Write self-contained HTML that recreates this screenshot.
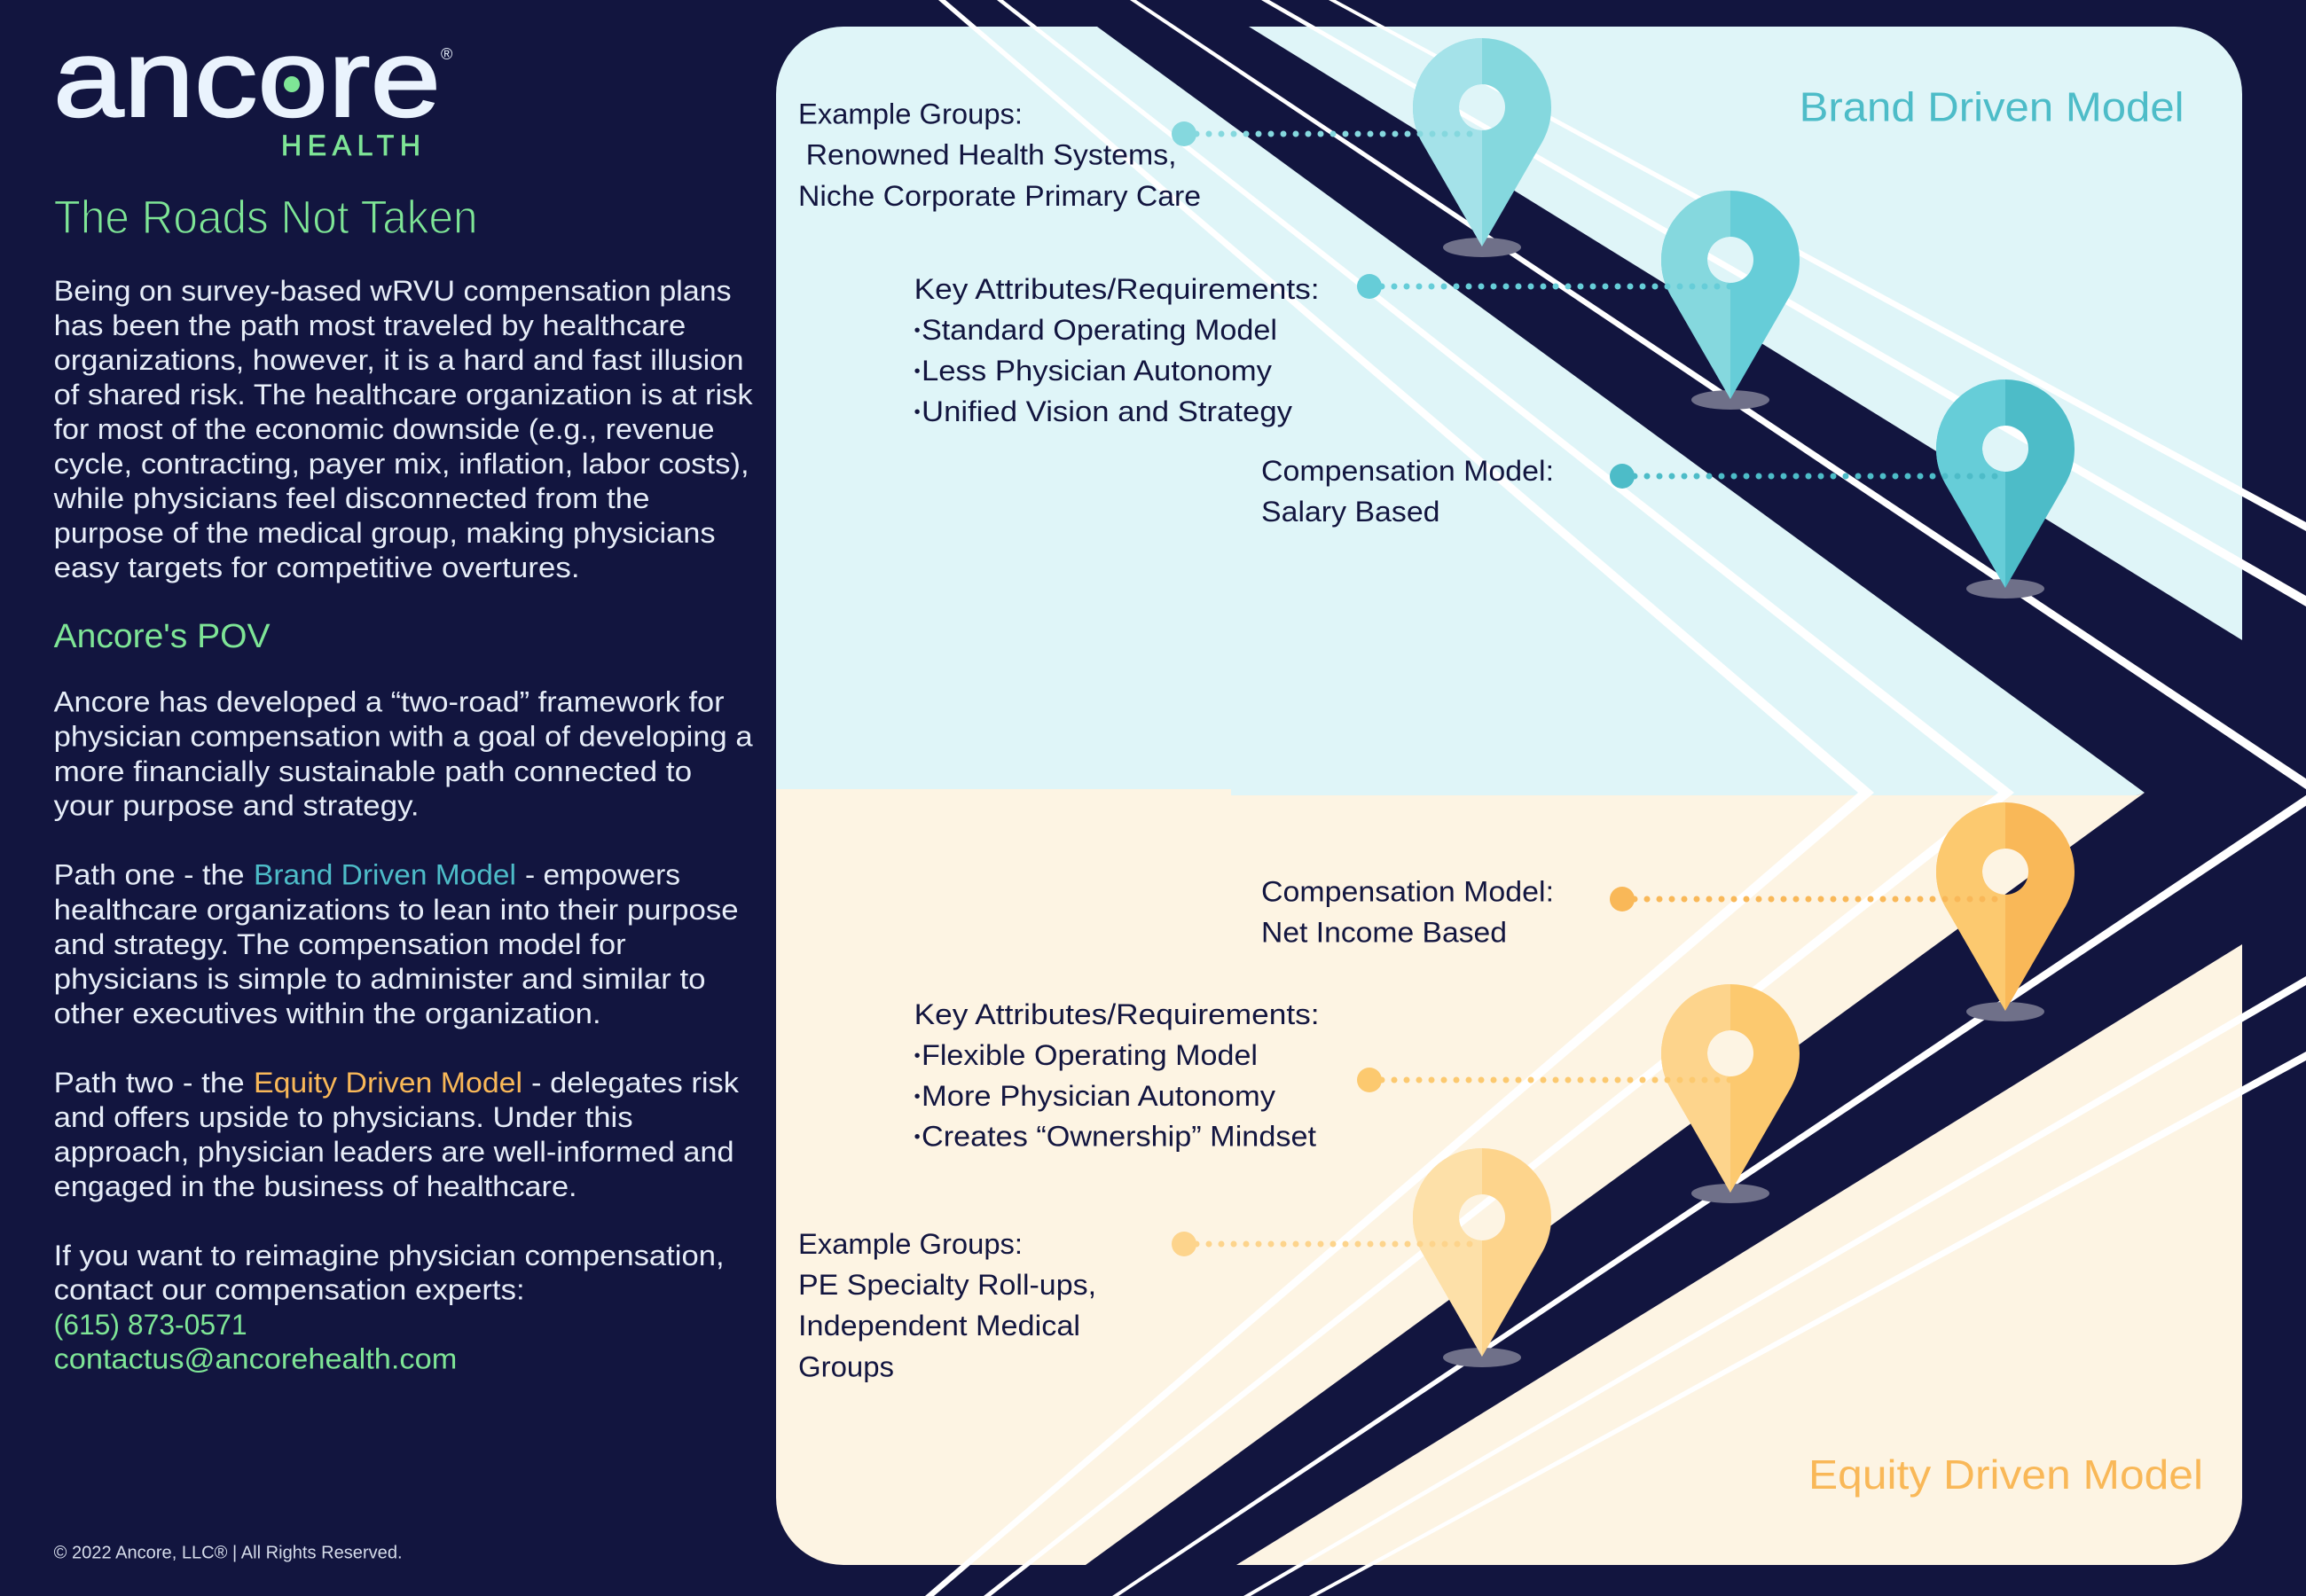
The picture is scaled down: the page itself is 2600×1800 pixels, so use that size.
<!DOCTYPE html>
<html><head><meta charset="utf-8"><title>Ancore Health - The Roads Not Taken</title>
<style>
html,body{margin:0;padding:0;background:#12153f;width:2600px;height:1800px;overflow:hidden}
svg{display:block}
text{font-family:"Liberation Sans",sans-serif;white-space:pre}
.b{font-size:32px;fill:#e6edf8}
.d{font-size:32px;fill:#12153f}
.g{fill:#7ee596}
.s{font-size:20px}
</style></head><body>
<svg xmlns="http://www.w3.org/2000/svg" width="2600" height="1800" viewBox="0 0 2600 1800">
<defs>
<path id="pin" fill-rule="evenodd" d="M0,0 L-68,-118 C-75,-131 -78,-143 -78,-157 A78,78 0 0 1 78,-157 C78,-143 75,-131 68,-118 Z M26,-157 A26,26 0 1 0 -26,-157 A26,26 0 1 0 26,-157 Z"/>
<clipPath id="lh"><rect x="-90" y="-250" width="90" height="260"/></clipPath>
</defs>
<rect width="2600" height="1800" fill="#12153f"/>
<!-- panels -->
<path fill="#dff5f8" d="M875,106 A76,76 0 0 1 951,30 L1237,30 L2418,894 L2409,897 L875,897 Z"/>
<path fill="#dff5f8" d="M1408,30 L2452,30 A76,76 0 0 1 2528,106 L2528,722 Z"/>
<path fill="#fdf4e3" d="M875,890 L1388,890 L1388,897 L2409,897 L2418,894 L1224,1765 L951,1765 A76,76 0 0 1 875,1689 Z"/>
<path fill="#fdf4e3" d="M1394,1765 L2528,1065 L2528,1689 A76,76 0 0 1 2452,1765 Z"/>
<!-- tapered roads -->
<g fill="#fff">
<polygon points="1058,0 1066,0 2113,894 1053,1800 1043,1800 2095,894"/>
<polygon points="1124,0 1131,0 2271,894 1117,1800 1109,1800 2253,894"/>
<polygon points="1274,0 1281,0 2623,893.5 1261,1800 1254,1800 2605,893.5"/>
<polygon points="1422,0 1431,0 2600,672 2600,684"/>
<polygon points="1498,0 1506,0 2600,589 2600,599"/>
<polygon points="1402,1800 1410,1800 2600,1111 2600,1101"/>
<polygon points="1476,1800 1484,1800 2600,1196 2600,1186"/>
</g>
<!-- pins -->
<g fill="#6f7089">
<ellipse cx="1671" cy="279" rx="44" ry="11"/><ellipse cx="1951" cy="451" rx="44" ry="11"/><ellipse cx="2261" cy="664" rx="44" ry="11"/>
<ellipse cx="2261" cy="1141" rx="44" ry="11"/><ellipse cx="1951" cy="1346" rx="44" ry="11"/><ellipse cx="1671" cy="1531" rx="44" ry="11"/>
</g>
<g transform="translate(1671,278)"><use href="#pin" fill="#85d8de"/><use href="#pin" fill="#a4e2e9" clip-path="url(#lh)"/></g>
<g transform="translate(1951,450)"><use href="#pin" fill="#66cdd8"/><use href="#pin" fill="#85d8de" clip-path="url(#lh)"/></g>
<g transform="translate(2261,663)"><use href="#pin" fill="#4dbcc8"/><use href="#pin" fill="#66cdd8" clip-path="url(#lh)"/></g>
<g transform="translate(2261,1140)"><use href="#pin" fill="#f9b858"/><use href="#pin" fill="#fcc96f" clip-path="url(#lh)"/></g>
<g transform="translate(1951,1345)"><use href="#pin" fill="#fcc96f"/><use href="#pin" fill="#fdd48c" clip-path="url(#lh)"/></g>
<g transform="translate(1671,1530)"><use href="#pin" fill="#fdd48c"/><use href="#pin" fill="#fde0a8" clip-path="url(#lh)"/></g>
<!-- connectors -->
<g fill="none" stroke-width="7" stroke-linecap="round" stroke-dasharray="0 14">
<line x1="1335" y1="151" x2="1671" y2="151" stroke="#85d8de"/>
<line x1="1544" y1="323" x2="1951" y2="323" stroke="#66cdd8"/>
<line x1="1829" y1="537" x2="2261" y2="537" stroke="#4dbcc8"/>
<line x1="1829" y1="1014" x2="2261" y2="1014" stroke="#f9b858"/>
<line x1="1544" y1="1218" x2="1951" y2="1218" stroke="#fcc96f"/>
<line x1="1335" y1="1403" x2="1671" y2="1403" stroke="#fdd48c"/>
</g>
<circle cx="1335" cy="151" r="14" fill="#85d8de"/><circle cx="1544" cy="323" r="14" fill="#66cdd8"/><circle cx="1829" cy="537" r="14" fill="#4dbcc8"/>
<circle cx="1829" cy="1014" r="14" fill="#f9b858"/><circle cx="1544" cy="1218" r="14" fill="#fcc96f"/><circle cx="1335" cy="1403" r="14" fill="#fdd48c"/>

<!-- logo -->
<text x="60" y="131" font-size="124" fill="#eaf3fd" stroke="#eaf3fd" stroke-width="2" textLength="437" lengthAdjust="spacingAndGlyphs">ancore</text>
<circle cx="329" cy="95" r="9" fill="#7ee596"/>
<text x="497" y="67" font-size="18" fill="#eaf3fd">®</text>
<text x="317" y="175" font-size="32" class="g" stroke="#7ee596" stroke-width="0.8" textLength="157">HEALTH</text>
<text x="60.6" y="263" font-size="53" class="g" stroke="#12153f" stroke-width="1.4" textLength="478" lengthAdjust="spacingAndGlyphs">The Roads Not Taken</text>

<!-- left column -->
<g class="b">
<text x="60.6" y="339" textLength="764" lengthAdjust="spacingAndGlyphs">Being on survey-based wRVU compensation plans</text>
<text x="60.6" y="378" textLength="712.7" lengthAdjust="spacingAndGlyphs">has been the path most traveled by healthcare</text>
<text x="60.6" y="417" textLength="778" lengthAdjust="spacingAndGlyphs">organizations, however, it is a hard and fast illusion</text>
<text x="60.6" y="456" textLength="788" lengthAdjust="spacingAndGlyphs">of shared risk. The healthcare organization is at risk</text>
<text x="60.6" y="495" textLength="745" lengthAdjust="spacingAndGlyphs">for most of the economic downside (e.g., revenue</text>
<text x="60.6" y="534" textLength="784" lengthAdjust="spacingAndGlyphs">cycle, contracting, payer mix, inflation, labor costs),</text>
<text x="60.6" y="573" textLength="672" lengthAdjust="spacingAndGlyphs">while physicians feel disconnected from the</text>
<text x="60.6" y="612" textLength="746" lengthAdjust="spacingAndGlyphs">purpose of the medical group, making physicians</text>
<text x="60.6" y="651" textLength="593" lengthAdjust="spacingAndGlyphs">easy targets for competitive overtures.</text>
</g>
<text x="60.6" y="730" font-size="38" class="g" textLength="244" lengthAdjust="spacingAndGlyphs">Ancore's POV</text>
<g class="b">
<text x="60.6" y="802.5" textLength="756" lengthAdjust="spacingAndGlyphs">Ancore has developed a “two-road” framework for</text>
<text x="60.6" y="841.7" textLength="788" lengthAdjust="spacingAndGlyphs">physician compensation with a goal of developing a</text>
<text x="60.6" y="881" textLength="719.5" lengthAdjust="spacingAndGlyphs">more financially sustainable path connected to</text>
<text x="60.6" y="919.6" textLength="412" lengthAdjust="spacingAndGlyphs">your purpose and strategy.</text>
<text x="60.6" y="997.5" textLength="215" lengthAdjust="spacingAndGlyphs">Path one - the</text>
<text x="286" y="997.5" style="fill:#4dbcc8" textLength="296" lengthAdjust="spacingAndGlyphs">Brand Driven Model</text>
<text x="592" y="997.5" textLength="175" lengthAdjust="spacingAndGlyphs">- empowers</text>
<text x="60.6" y="1037" textLength="772" lengthAdjust="spacingAndGlyphs">healthcare organizations to lean into their purpose</text>
<text x="60.6" y="1076" textLength="645" lengthAdjust="spacingAndGlyphs">and strategy. The compensation model for</text>
<text x="60.6" y="1115" textLength="735" lengthAdjust="spacingAndGlyphs">physicians is simple to administer and similar to</text>
<text x="60.6" y="1154" textLength="617" lengthAdjust="spacingAndGlyphs">other executives within the organization.</text>
<text x="60.6" y="1232" textLength="215" lengthAdjust="spacingAndGlyphs">Path two - the</text>
<text x="286" y="1232" style="fill:#f9b858" textLength="303" lengthAdjust="spacingAndGlyphs">Equity Driven Model</text>
<text x="599" y="1232" textLength="234" lengthAdjust="spacingAndGlyphs">- delegates risk</text>
<text x="60.6" y="1271" textLength="653" lengthAdjust="spacingAndGlyphs">and offers upside to physicians. Under this</text>
<text x="60.6" y="1310" textLength="767" lengthAdjust="spacingAndGlyphs">approach, physician leaders are well-informed and</text>
<text x="60.6" y="1349" textLength="590" lengthAdjust="spacingAndGlyphs">engaged in the business of healthcare.</text>
<text x="60.6" y="1427" textLength="756" lengthAdjust="spacingAndGlyphs">If you want to reimagine physician compensation,</text>
<text x="60.6" y="1465.6" textLength="531" lengthAdjust="spacingAndGlyphs">contact our compensation experts:</text>
<text x="60.6" y="1505" style="fill:#7ee596" textLength="218" lengthAdjust="spacingAndGlyphs">(615) 873-0571</text>
<text x="60.6" y="1543.5" style="fill:#7ee596" textLength="454.7" lengthAdjust="spacingAndGlyphs">contactus@ancorehealth.com</text>
</g>
<text x="60.6" y="1757.5" font-size="20" fill="#d5dcea" textLength="393" lengthAdjust="spacingAndGlyphs">© 2022 Ancore, LLC® | All Rights Reserved.</text>

<!-- model titles -->
<text x="2028.6" y="136.6" font-size="46" fill="#4dbcc8" textLength="434" lengthAdjust="spacingAndGlyphs">Brand Driven Model</text>
<text x="2039" y="1679" font-size="46" fill="#f9b858" textLength="445" lengthAdjust="spacingAndGlyphs">Equity Driven Model</text>

<!-- labels -->
<g class="d">
<text x="900" y="139.5" textLength="253" lengthAdjust="spacingAndGlyphs">Example Groups:</text>
<text x="908.6" y="185.4" textLength="418" lengthAdjust="spacingAndGlyphs">Renowned Health Systems,</text>
<text x="900" y="232" textLength="454" lengthAdjust="spacingAndGlyphs">Niche Corporate Primary Care</text>
<text x="1030.6" y="337" textLength="457" lengthAdjust="spacingAndGlyphs">Key Attributes/Requirements:</text>
<text x="1030.6" y="379" class="s">•</text><text x="1039" y="383" textLength="401" lengthAdjust="spacingAndGlyphs">Standard Operating Model</text>
<text x="1030.6" y="425" class="s">•</text><text x="1039" y="429" textLength="395" lengthAdjust="spacingAndGlyphs">Less Physician Autonomy</text>
<text x="1030.6" y="471" class="s">•</text><text x="1039" y="475" textLength="418" lengthAdjust="spacingAndGlyphs">Unified Vision and Strategy</text>
<text x="1422" y="542" textLength="330" lengthAdjust="spacingAndGlyphs">Compensation Model:</text>
<text x="1422" y="588" textLength="201.5" lengthAdjust="spacingAndGlyphs">Salary Based</text>
<text x="1422" y="1016.7" textLength="330" lengthAdjust="spacingAndGlyphs">Compensation Model:</text>
<text x="1422" y="1062.5" textLength="277" lengthAdjust="spacingAndGlyphs">Net Income Based</text>
<text x="1030.6" y="1155" textLength="457" lengthAdjust="spacingAndGlyphs">Key Attributes/Requirements:</text>
<text x="1030.6" y="1197" class="s">•</text><text x="1039" y="1201" textLength="379" lengthAdjust="spacingAndGlyphs">Flexible Operating Model</text>
<text x="1030.6" y="1243" class="s">•</text><text x="1039" y="1247" textLength="399" lengthAdjust="spacingAndGlyphs">More Physician Autonomy</text>
<text x="1030.6" y="1288.5" class="s">•</text><text x="1039" y="1292.5" textLength="445" lengthAdjust="spacingAndGlyphs">Creates “Ownership” Mindset</text>
<text x="900" y="1414" textLength="253" lengthAdjust="spacingAndGlyphs">Example Groups:</text>
<text x="900" y="1460" textLength="336" lengthAdjust="spacingAndGlyphs">PE Specialty Roll-ups,</text>
<text x="900" y="1506" textLength="318" lengthAdjust="spacingAndGlyphs">Independent Medical</text>
<text x="900" y="1552.5" textLength="108" lengthAdjust="spacingAndGlyphs">Groups</text>
</g>
</svg>
</body></html>
